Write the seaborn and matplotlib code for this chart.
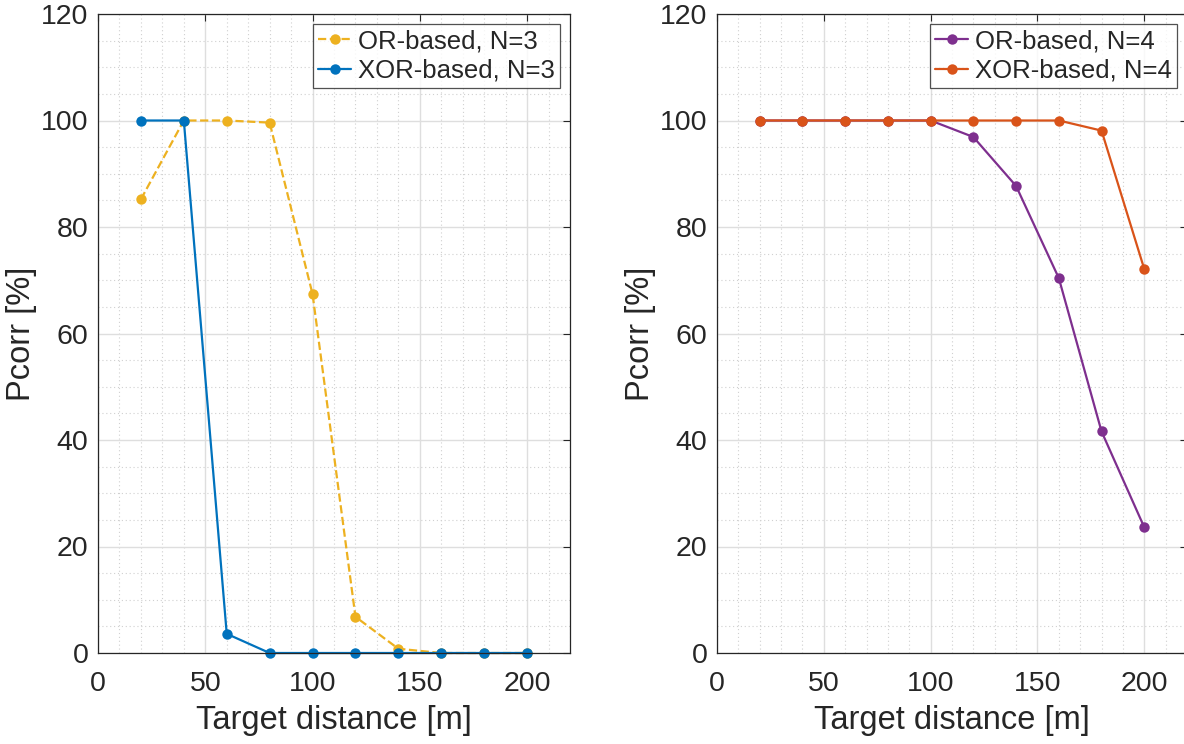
import numpy as np
import pandas as pd
import matplotlib
matplotlib.use("Agg")
import matplotlib.pyplot as plt
import seaborn as sns
from matplotlib.ticker import MultipleLocator

distance = [20, 40, 60, 80, 100, 120, 140, 160, 180, 200]
or_n3 = [85.2, 100, 100, 99.6, 67.4, 6.8, 0.8, 0, 0, 0]
xor_n3 = [100, 100, 3.6, 0, 0, 0, 0, 0, 0, 0]
or_n4 = [100, 100, 100, 100, 100, 96.9, 87.7, 70.4, 41.6, 23.6]
xor_n4 = [100, 100, 100, 100, 100, 100, 100, 100, 98.1, 72.1]

labels_left = ["OR-based, N=3", "XOR-based, N=3"]
labels_right = ["OR-based, N=4", "XOR-based, N=4"]
xticks = [0, 50, 100, 150, 200]
yticks = [0, 20, 40, 60, 80, 100, 120]

sns.set_style("white")
plt.rcParams['font.family'] = ['Liberation Sans', 'DejaVu Sans']

fig = plt.figure(figsize=(11.84, 7.44), dpi=100)
axL = fig.add_axes([98/1184, 91/744, 472/1184, 639/744])
axR = fig.add_axes([717/1184, 91/744, 470/1184, 639/744])

dk = "#262626"

def style_ax(ax):
    ax.set_xlim(0, 220)
    ax.set_ylim(0, 120)
    ax.set_xticks(xticks)
    ax.set_yticks(yticks)
    ax.xaxis.set_minor_locator(MultipleLocator(10))
    ax.yaxis.set_minor_locator(MultipleLocator(5))
    ax.grid(True, which="major", color="#dedede", linewidth=1.0, linestyle="-")
    ax.grid(True, which="minor", color="#d0d0d0", linewidth=0.8, linestyle=(0, (1, 2.5)))
    ax.set_axisbelow(True)
    ax.tick_params(which="major", direction="in", length=5, width=0.8, top=True, right=True,
                   labelsize=20.5, colors=dk)
    ax.tick_params(axis="x", which="major", pad=13)
    ax.tick_params(axis="y", which="major", pad=7)
    ax.tick_params(which="minor", length=0, top=True, right=True)
    for s in ax.spines.values():
        s.set_color(dk)
        s.set_linewidth(0.9)
    ax.set_xlabel("Target distance [m]", fontsize=23.5, color=dk, labelpad=6)
    ax.set_ylabel("Pcorr [%]", fontsize=23.5, color=dk, labelpad=3)

df_l = pd.DataFrame({"d": distance, "or": or_n3, "xor": xor_n3})
df_r = pd.DataFrame({"d": distance, "or": or_n4, "xor": xor_n4})

sns.lineplot(data=df_l, x="d", y="or", ax=axL, color="#EDB120", linestyle="--", marker="o",
             markersize=7.5, markeredgewidth=0, linewidth=1.6, label=labels_left[0])
sns.lineplot(data=df_l, x="d", y="xor", ax=axL, color="#0072BD", linestyle="-", marker="o",
             markersize=7.5, markeredgewidth=0, linewidth=1.6, label=labels_left[1])
sns.lineplot(data=df_r, x="d", y="or", ax=axR, color="#7E2F8E", linestyle="-", marker="o",
             markersize=7.5, markeredgewidth=0, linewidth=1.6, label=labels_right[0])
sns.lineplot(data=df_r, x="d", y="xor", ax=axR, color="#D95319", linestyle="-", marker="o",
             markersize=7.5, markeredgewidth=0, linewidth=1.6, label=labels_right[1])

for ax in (axL, axR):
    style_ax(ax)
    for ln in ax.get_lines():
        ln.set_clip_on(False)
    leg = ax.legend(loc="upper right", fontsize=18.5, frameon=True, fancybox=False,
                    borderaxespad=0.4, handlelength=1.3, handletextpad=0.25,
                    borderpad=0.2, labelspacing=0.2)
    leg.get_frame().set_edgecolor(dk)
    leg.get_frame().set_linewidth(0.9)

fig.savefig("out.png", dpi=100)
